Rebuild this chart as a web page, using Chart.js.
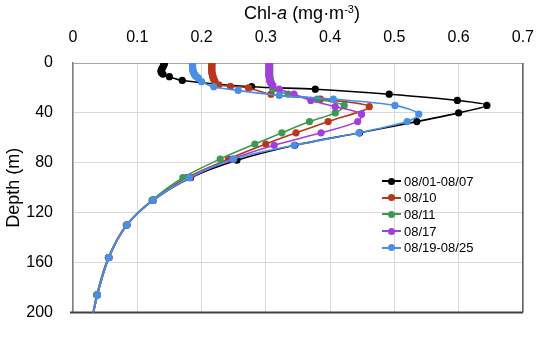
<!DOCTYPE html>
<html>
<head>
<meta charset="utf-8">
<script src="https://cdn.jsdelivr.net/npm/chart.js@4.4.1/dist/chart.umd.min.js"></script>
<style>
  body { margin: 0; background: #fff; }
  #wrap { position: relative; width: 550px; height: 342px; font-family: "Liberation Sans", Arial, sans-serif; color: #000; }
  #xTitle { position: absolute; left: 73px; width: 458px; top: 2px; text-align: center; font-size: 18px; line-height: 22px; }
  #xTitle sup { font-size: 11px; line-height: 0; vertical-align: 6px; }
  #legend { position: absolute; left: 382px; top: 173px; font-size: 13px; }
  .item { height: 16.6px; display: flex; align-items: center; }
  .mark { position: relative; width: 19px; height: 2px; margin-right: 3px; }
  .mark span { position: absolute; left: 6px; top: -2.5px; width: 7px; height: 7px; border-radius: 50%; }
</style>
</head>
<body>
<div id="wrap">
  <canvas id="chlChart" width="550" height="342"></canvas>
  <div id="xTitle">Chl-<i>a</i> (mg·m<sup>-3</sup>)</div>
  <div id="legend"></div>
</div>
<script>
// Series labels and colours (legend order)
const seriesLabels = ["08/01-08/07", "08/10", "08/11", "08/17", "08/19-08/25"];
const seriesColors = ["#000000", "#b8361c", "#3b9a4f", "#a23fdc", "#4a8fe6"];

// Depth (m) and Chl-a (mg m-3) per profile
const depth0801 = [0, 1, 2, 3, 4, 5, 6, 7, 8, 9, 11, 14, 19, 21, 25, 30, 34, 40, 47, 56, 66, 78, 92, 110, 130, 156, 186, 215];
const chl0801 = [0.142, 0.142, 0.141, 0.140, 0.139, 0.138, 0.137, 0.137, 0.138, 0.140, 0.150, 0.170, 0.278, 0.377, 0.492, 0.598, 0.644, 0.600, 0.535, 0.446, 0.345, 0.255, 0.183, 0.125, 0.084, 0.056, 0.038, 0.026];

const depth0810 = [0, 1, 2, 3, 4, 5, 6, 7, 8, 9, 10, 11, 12, 13, 14, 15, 17.5, 18.7, 20, 25, 29, 35, 47, 56, 65, 77, 92, 110, 130, 156, 186, 215];
const chl0810 = [0.216, 0.216, 0.216, 0.216, 0.216, 0.216, 0.216, 0.216, 0.216, 0.217, 0.217, 0.218, 0.218, 0.219, 0.220, 0.221, 0.227, 0.245, 0.273, 0.308, 0.385, 0.461, 0.397, 0.347, 0.300, 0.242, 0.177, 0.124, 0.083, 0.055, 0.037, 0.026];

const depth0811 = [0, 1, 2, 3, 4, 5, 6, 7, 8, 9, 10, 11, 12, 13, 14, 15, 16, 21, 25, 29, 34, 40, 47, 56, 65, 77, 92, 110, 130, 156, 186, 215];
const chl0811 = [0.306, 0.306, 0.306, 0.306, 0.306, 0.306, 0.306, 0.306, 0.306, 0.306, 0.306, 0.306, 0.306, 0.307, 0.307, 0.308, 0.308, 0.311, 0.335, 0.380, 0.422, 0.408, 0.368, 0.325, 0.283, 0.229, 0.171, 0.123, 0.083, 0.055, 0.037, 0.026];

const depth0817 = [0, 1, 2, 3, 4, 5, 6, 7, 8, 9, 10, 11, 12, 13, 14, 15, 16, 17, 18, 21, 25, 30, 35, 41, 47, 56, 66, 77, 92, 110, 130, 156, 186, 215];
const chl0817 = [0.305, 0.305, 0.305, 0.305, 0.305, 0.305, 0.305, 0.305, 0.305, 0.305, 0.305, 0.305, 0.306, 0.306, 0.306, 0.307, 0.308, 0.309, 0.311, 0.321, 0.344, 0.370, 0.408, 0.449, 0.443, 0.386, 0.313, 0.248, 0.182, 0.125, 0.084, 0.056, 0.038, 0.026];

const depth0819 = [0, 1, 2, 3, 4, 5, 6, 7, 8, 9, 10, 11, 12, 15, 19, 22, 26, 29, 34, 41, 47, 56, 66, 77, 92, 110, 130, 156, 186, 215];
const chl0819 = [0.186, 0.186, 0.186, 0.186, 0.186, 0.186, 0.187, 0.187, 0.188, 0.189, 0.190, 0.192, 0.195, 0.200, 0.219, 0.257, 0.321, 0.405, 0.501, 0.538, 0.520, 0.445, 0.344, 0.250, 0.181, 0.125, 0.084, 0.056, 0.038, 0.026];

// Axis ticks
const chlTicks = [0, 0.1, 0.2, 0.3, 0.4, 0.5, 0.6, 0.7];
const depthTicks = [0, 40, 80, 120, 160, 200];

const profiles = [
  [depth0801, chl0801],
  [depth0810, chl0810],
  [depth0811, chl0811],
  [depth0817, chl0817],
  [depth0819, chl0819]
];

const fontFamily = '"Liberation Sans", Arial, sans-serif';

// Excel draws later series on top; Chart.js draws lowest "order" last
const datasets = profiles.map(([depths, chl], i) => ({
  label: seriesLabels[i],
  data: depths.map((d, j) => ({ x: chl[j], y: d })),
  borderColor: seriesColors[i],
  backgroundColor: seriesColors[i],
  pointBackgroundColor: seriesColors[i],
  pointBorderWidth: 0,
  pointRadius: 3.6,
  borderWidth: 1.6,
  showLine: true,
  tension: 0.3,
  order: profiles.length - i
}));

// Dark bottom and right plot edges
const framePlugin = {
  id: "frame",
  beforeDatasetsDraw(chart) {
    const { ctx, chartArea: a } = chart;
    ctx.save();
    ctx.strokeStyle = "#5a5a5a";
    ctx.lineWidth = 1.5;
    ctx.beginPath();
    ctx.moveTo(a.right, a.top);
    ctx.lineTo(a.right, a.bottom);
    ctx.stroke();
    ctx.strokeStyle = "#404040";
    ctx.lineWidth = 2;
    ctx.beginPath();
    ctx.moveTo(a.left - 3, a.bottom);
    ctx.lineTo(a.right, a.bottom);
    ctx.stroke();
    ctx.restore();
  }
};

const ctx = document.getElementById("chlChart").getContext("2d");
new Chart(ctx, {
  type: "scatter",
  data: { datasets: datasets },
  plugins: [framePlugin],
  options: {
    responsive: false,
    animation: false,
    layout: { padding: { top: 0, right: 19, bottom: 11, left: 0 } },
    plugins: { legend: { display: false }, tooltip: { enabled: false } },
    scales: {
      x: {
        type: "linear",
        position: "top",
        min: chlTicks[0],
        max: chlTicks[chlTicks.length - 1],
        afterBuildTicks: s => { s.ticks = chlTicks.map(v => ({ value: v })); },
        ticks: { color: "#000", padding: 16, font: { family: fontFamily, size: 16 } },
        grid: { color: "#d9d9d9", drawTicks: false },
        border: { color: "#a6a6a6" },
        afterFit: s => { s.height = 63; }
      },
      y: {
        type: "linear",
        reverse: true,
        min: depthTicks[0],
        max: depthTicks[depthTicks.length - 1],
        afterBuildTicks: s => { s.ticks = depthTicks.map(v => ({ value: v })); },
        ticks: { color: "#000", padding: 20, font: { family: fontFamily, size: 16 } },
        grid: { color: "#d9d9d9", drawTicks: false },
        border: { color: "#808080", width: 1.5 },
        title: { display: true, text: "Depth (m)", color: "#000", font: { family: fontFamily, size: 18 }, padding: { top: 3, bottom: 0 } },
        afterFit: s => { s.width = 73; }
      }
    }
  }
});

// Legend inside the plot area
const legend = document.getElementById("legend");
seriesLabels.forEach((label, i) => {
  const row = document.createElement("div");
  row.className = "item";
  row.innerHTML = '<div class="mark" style="background:' + seriesColors[i] + '"><span style="background:' +
    seriesColors[i] + '"></span></div>' + label;
  legend.appendChild(row);
});
</script>
</body>
</html>
